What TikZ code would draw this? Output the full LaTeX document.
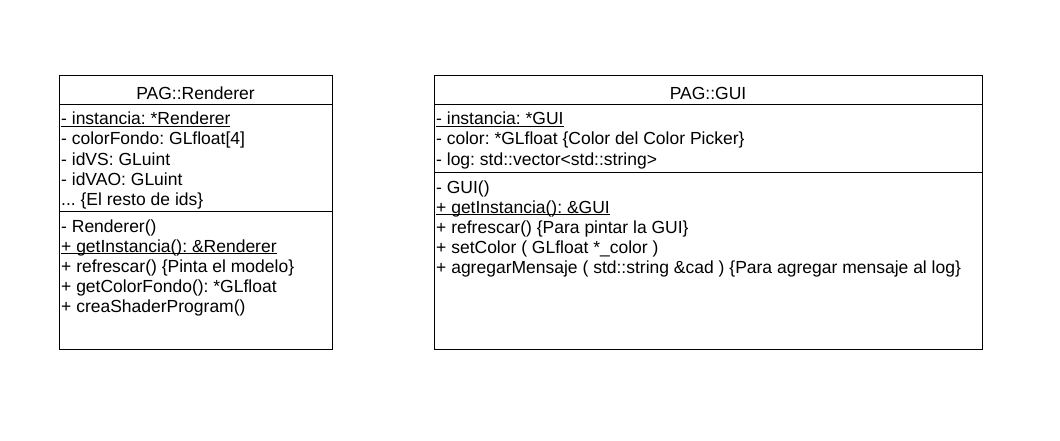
\documentclass[tikz,border=0pt]{standalone}
\usepackage{fontspec}
\setmainfont{Liberation Sans}
\newcommand\myul[1]{\setbox0\hbox{#1}\rlap{\rule[-2.2pt]{\wd0}{0.9pt}}\box0}
\begin{document}
\frenchspacing
\begin{tikzpicture}[x=1pt,y=-1pt,
  comp/.style={draw=black, line width=0.9pt, fill=white, anchor=north west, inner sep=0pt, outer sep=0pt},
  txt/.style={anchor=base west, inner sep=0pt, font=\fontsize{17.5}{20}\selectfont},
  head/.style={anchor=base, inner sep=0pt, font=\fontsize{17.5}{20}\selectfont}]
\useasboundingbox (0,0) rectangle (1060,441);
% Renderer class
\node[comp, minimum width=273pt, minimum height=29pt] (rh) at (59,75) {};
\node[comp, minimum width=273pt, minimum height=107pt] (ra) at (59,104) {};
\node[comp, minimum width=273pt, minimum height=138pt] (rm) at (59,211) {};
\node[head] (rt) at (195.5,100) {PAG::Renderer};
\node[txt] (ra1) at (61,125) {\myul{- instancia: *Renderer}};
\node[txt] (ra2) at (61,145) {- colorFondo: GLfloat[4]};
\node[txt] (ra3) at (61,165) {- idVS: GLuint};
\node[txt] (ra4) at (61,185) {- idVAO: GLuint};
\node[txt] (ra5) at (61,205) {... \{El resto de ids\}};
\node[txt] (rm1) at (61,232) {- Renderer()};
\node[txt] (rm2) at (61,252) {\myul{+ getInstancia(): \&Renderer}};
\node[txt] (rm3) at (61,272) {+ refrescar() \{Pinta el modelo\}};
\node[txt] (rm4) at (61,292) {+ getColorFondo(): *GLfloat};
\node[txt] (rm5) at (61,312) {+ creaShaderProgram()};
% GUI class
\node[comp, minimum width=548pt, minimum height=29pt] (gh) at (434,75) {};
\node[comp, minimum width=548pt, minimum height=68pt] (ga) at (434,104) {};
\node[comp, minimum width=548pt, minimum height=177pt] (gm) at (434,172) {};
\node[head] (gt) at (708,100) {PAG::GUI};
\node[txt] (ga1) at (436,125) {\myul{- instancia: *GUI}};
\node[txt] (ga2) at (436,145) {- color: *GLfloat \{Color del Color Picker\}};
\node[txt] (ga3) at (436,165) {- log: std::vector<std::string>};
\node[txt] (gm1) at (436,193) {- GUI()};
\node[txt] (gm2) at (436,213) {\myul{+ getInstancia(): \&GUI}};
\node[txt] (gm3) at (436,233) {+ refrescar() \{Para pintar la GUI\}};
\node[txt] (gm4) at (436,253) {+ setColor ( GLfloat *\_color )};
\node[txt] (gm5) at (436,273) {+ agregarMensaje ( std::string \&cad ) \{Para agregar mensaje al log\}};
\end{tikzpicture}
\end{document}
